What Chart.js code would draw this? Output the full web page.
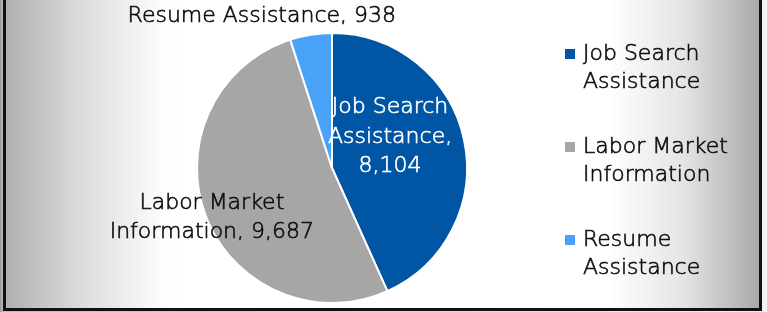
<!DOCTYPE html>
<html>
<head>
<meta charset="utf-8">
<script src="https://cdn.jsdelivr.net/npm/chart.js@4.4.1/dist/chart.umd.min.js"></script>
<style>
  html, body { margin: 0; padding: 0; width: 767px; height: 312px; overflow: hidden;
    background: linear-gradient(to right, #9a9a9a 0px, #bdbdbd 3px, #f2f2f2 763px); }
  #frame { position: absolute; left: 3px; top: -10px; width: 759px; height: 321px;
    box-sizing: border-box; border: 3px solid #111;
    background: linear-gradient(to right, #b0b0b0 0%, #dcdcdc 10%, #fdfdfd 21%, #ffffff 24%, #ffffff 80%, #e4e4e4 90%, #a9a9a9 100%); }
  #c { position: absolute; left: 0; top: 0; }
</style>
</head>
<body>
<div id="frame"></div>
<canvas id="c" width="767" height="312"></canvas>
<script>
// ---- data ----
const categories = ["Job Search Assistance", "Labor Market Information", "Resume Assistance"];
const values = [8104, 9687, 938];
const legendLines = [["Job Search", "Assistance"], ["Labor Market", "Information"], ["Resume", "Assistance"]];
const dataLabelNameLines = [["Job Search", "Assistance,"], ["Labor Market", "Information,"], ["Resume Assistance,"]];

// ---- styling ----
const sliceColors = ["#0055a5", "#a6a6a6", "#49a2f7"];
const labelColors = ["#ffffff", "#0d0d0d", "#0d0d0d"];
// label anchor relative to pie centre, in units of radius
const labelAnchors = [[0.43, -0.23], [-0.89, 0.37], [-0.52, -1.125]];
const FONT = '200 22px "DejaVu Sans", sans-serif';

function fmt(v) { return v.toLocaleString('en-US'); }

function labelText(i) {
  const name = dataLabelNameLines[i].slice();
  const v = fmt(values[i]);
  if (i === 0) return name.concat([v]);
  name[name.length - 1] = name[name.length - 1] + " " + v;
  return name;
}

function drawText(ctx, t, x, y, color) {
  ctx.fillStyle = color;
  ctx.strokeStyle = color;
  ctx.lineWidth = 0.6;
  ctx.fillText(t, x, y);
  ctx.strokeText(t, x, y);
}

const labelsPlugin = {
  id: 'customLabels',
  afterDraw(chart) {
    const ctx = chart.ctx;
    const meta = chart.getDatasetMeta(0);
    ctx.save();
    ctx.font = FONT;
    ctx.textAlign = 'center';
    ctx.textBaseline = 'middle';
    const lh = 29.5;
    meta.data.forEach((arc, i) => {
      const p = arc.getProps(['x', 'y', 'outerRadius'], true);
      const cx = p.x + labelAnchors[i][0] * p.outerRadius;
      const cy = p.y + labelAnchors[i][1] * p.outerRadius;
      const lines = labelText(i);
      const y0 = cy - (lines.length - 1) * lh / 2;
      lines.forEach((t, k) => drawText(ctx, t, cx, y0 + k * lh, labelColors[i]));
    });
    // legend
    const lx = 565, ly = 54, step = 93, llh = 28.5, box = 10, tx = 583;
    ctx.textAlign = 'left';
    chart.data.labels.forEach((lab, i) => {
      const y = ly + i * step;
      ctx.fillStyle = chart.data.datasets[0].backgroundColor[i];
      ctx.fillRect(lx, y - box / 2, box, box);
      legendLines[i].forEach((t, k) => drawText(ctx, t, tx, y + k * llh, '#0d0d0d'));
    });
    ctx.restore();
  }
};

new Chart(document.getElementById('c'), {
  type: 'pie',
  data: {
    labels: categories,
    datasets: [{
      data: values,
      backgroundColor: sliceColors,
      borderColor: '#ffffff',
      borderWidth: 2
    }]
  },
  options: {
    responsive: false,
    animation: false,
    layout: { padding: { left: 196, right: 299, top: 32, bottom: 8 } },
    plugins: { legend: { display: false }, tooltip: { enabled: false } }
  },
  plugins: [labelsPlugin]
});
</script>
</body>
</html>
